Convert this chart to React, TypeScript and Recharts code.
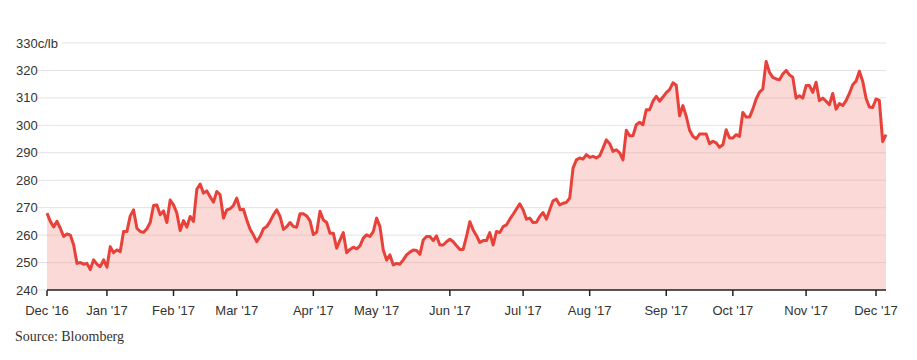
import React from "react";
import { AreaChart, Area, XAxis, YAxis, CartesianGrid } from "recharts";

// copper price, c/lb, one value per trading day, grouped by month
const monthLabels = [
  "Dec '16", "Jan '17", "Feb '17", "Mar '17", "Apr '17", "May '17", "Jun '17",
  "Jul '17", "Aug '17", "Sep '17", "Oct '17", "Nov '17", "Dec '17",
];

const dec16 = [268, 265, 263, 265, 262.5, 259.5, 260.4, 260, 256.5, 249.7, 250, 249.4, 249.7, 247.5, 251, 249.4, 248.5, 251];
const jan17 = [248.3, 255.8, 253.6, 254.6, 254, 261.3, 261.3, 267, 269.2, 262.5, 261.3, 261, 262.3, 264.6, 270.8, 271, 267.4, 268.8, 264.6, 272.8];
const feb17 = [271, 268, 261.7, 265.3, 262.9, 266.8, 265, 276.7, 278.6, 275.3, 276.1, 274, 272, 275.9, 274.7, 266.2, 269.2, 269.6, 270.8];
const mar17 = [273.5, 269.2, 269.4, 265.5, 262.1, 260, 257.6, 259.5, 262.3, 263.1, 265, 267.4, 269.2, 266.8, 262.1, 263.1, 264.6, 263.1, 262.9, 267.8, 267.8, 267, 265.2];
const apr17 = [260.2, 261, 268.7, 265.5, 264.6, 260.7, 260.7, 255.2, 258.2, 260.9, 253.6, 254.8, 255.6, 255, 256.1, 258.9, 260.1, 259.5, 261.3];
const may17 = [266.2, 263.1, 254.6, 250.9, 252.8, 249.1, 249.7, 249.4, 251, 252.8, 253.8, 254.6, 254.4, 253, 258.2, 259.5, 259.5, 258, 259.7, 256.4, 256.4, 257.6];
const jun17 = [258.5, 257.6, 256.1, 254.8, 254.8, 259.5, 264.9, 261.9, 259.8, 257.3, 258, 258, 260.9, 256.4, 261.3, 260.9, 263.1, 263.7, 265.8, 267.6, 269.5, 271.4];
const jul17 = [269.2, 265.8, 266.2, 264.6, 264.7, 266.8, 268.2, 265.8, 269.2, 272.5, 273.1, 271, 271.6, 271.9, 273.5, 284.4, 287.4, 288.1, 287.7, 289.3];
const aug17 = [288.3, 288.7, 288.1, 288.9, 291.7, 294.7, 293.3, 290.5, 291.1, 290, 287.4, 298.2, 296.2, 296.2, 300.2, 301.1, 300.2, 305.7, 305.7, 308.8, 310.6, 308.8, 310.3];
const sep17 = [311.9, 313, 315.5, 314.6, 303.5, 307.2, 303.3, 298.2, 296, 295.1, 296.8, 296.8, 296.8, 293.3, 294.2, 293.6, 292, 292.9, 298.4, 295.4];
const oct17 = [295.4, 296.6, 296, 304.7, 303, 303, 305.9, 309.6, 312.1, 313.2, 323.3, 319.3, 317.5, 316.9, 316.6, 318.7, 320, 318.4, 317.5, 309.9, 310.8, 309.9];
const nov17 = [314.5, 314.5, 312, 315.7, 309, 309.9, 308.8, 307.5, 311.6, 305.9, 307.9, 307.2, 309, 311.6, 314.8, 316.1, 319.7, 316.1, 309.9, 306.7, 306.5];
const dec17 = [309.6, 309.1, 294.1, 296.6];

const yTicks = [240, 250, 260, 270, 280, 290, 300, 310, 320, 330];

const months = [dec16, jan17, feb17, mar17, apr17, may17, jun17, jul17, aug17, sep17, oct17, nov17, dec17];

const data: { t: number; price: number }[] = [];
const monthStarts: number[] = [];
months.forEach((m) => {
  monthStarts.push(data.length);
  m.forEach((v) => data.push({ t: data.length, price: v }));
});
const lastT = data.length - 1;

const FONT = "Arial, 'Liberation Sans', Helvetica, sans-serif";

const YTick = (props: any) => {
  const { y, payload } = props;
  const top = payload.value === yTicks[yTicks.length - 1];
  return (
    <g>
      {top && <rect x={12} y={y - 9} width={50} height={18} fill="#fff" />}
      <text x={16} y={y} dy="0.35em" textAnchor="start" fill="#333" fontSize={13} fontFamily={FONT}>
        {top ? `${payload.value}c/lb` : payload.value}
      </text>
    </g>
  );
};

export default function App() {
  return (
    <div style={{ position: "absolute", left: 0, top: 0, width: 917, height: 360, background: "#fff" }}>
      <AreaChart width={917} height={360} data={data} margin={{ top: 43, right: 31, bottom: 40, left: 0 }}>
        <CartesianGrid vertical={false} stroke="#e2e2e2" strokeWidth={1} />
        <XAxis
          dataKey="t"
          type="number"
          domain={[0, lastT]}
          ticks={monthStarts}
          tickFormatter={(t) => monthLabels[monthStarts.indexOf(t)]}
          height={30}
          tickSize={6}
          tickMargin={10}
          axisLine={{ stroke: "#222", strokeWidth: 1.5 }}
          tickLine={{ stroke: "#222", strokeWidth: 1.5 }}
          tick={{ fill: "#333", fontSize: 13, fontFamily: FONT }}
          interval={0}
        />
        <YAxis
          domain={[240, 330]}
          ticks={yTicks}
          width={47}
          axisLine={false}
          tickSize={9}
          tickLine={{ stroke: "#e2e2e2" }}
          tick={<YTick />}
          interval={0}
        />
        <Area
          type="linear"
          dataKey="price"
          stroke="#e8413a"
          strokeWidth={3}
          strokeLinejoin="round"
          fill="#f49a93"
          fillOpacity={0.38}
          dot={false}
          activeDot={false}
          isAnimationActive={false}
        />
      </AreaChart>
      <div
        style={{
          position: "absolute",
          left: 15,
          top: 328,
          fontFamily: "'Liberation Serif', 'Times New Roman', serif",
          fontSize: 14,
          color: "#333",
          lineHeight: "18px",
        }}
      >
        Source: Bloomberg
      </div>
    </div>
  );
}
